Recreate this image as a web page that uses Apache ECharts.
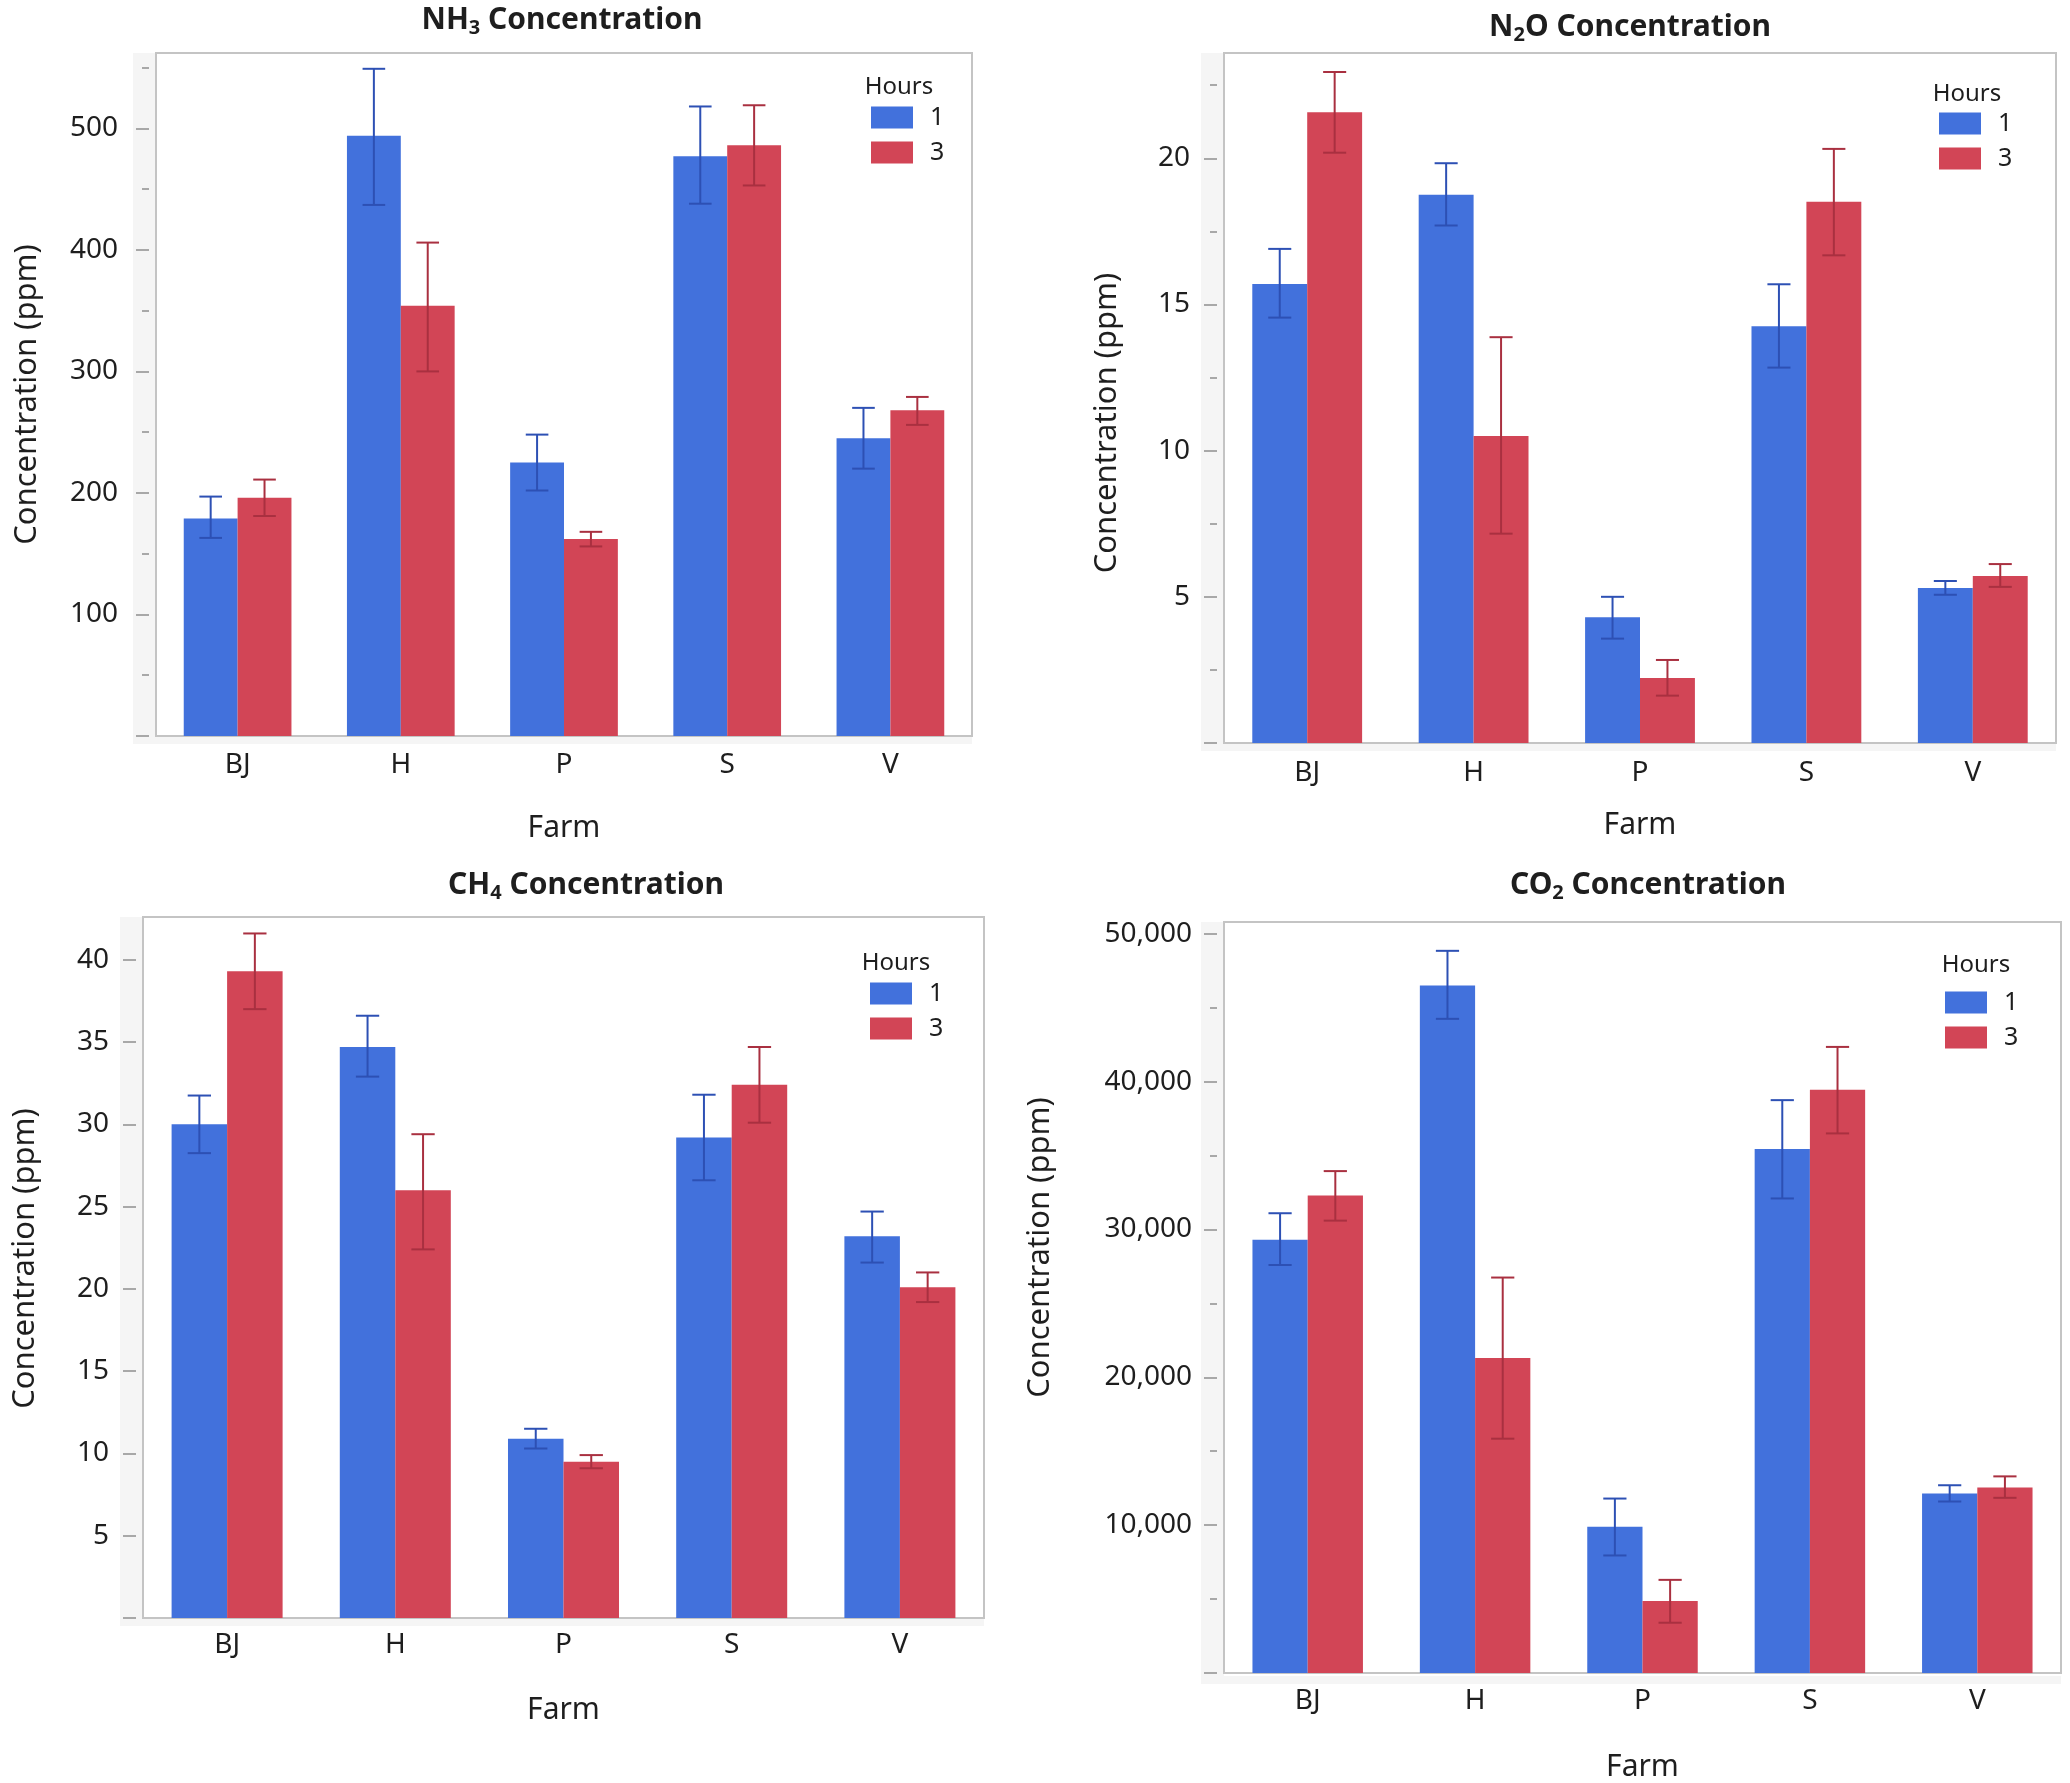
<!DOCTYPE html>
<html><head><meta charset="utf-8">
<script src="https://cdn.jsdelivr.net/npm/echarts@6/dist/echarts.min.js"></script>
<style>html,body{margin:0;padding:0;background:#fff}#c{width:2070px;height:1783px}</style>
</head><body><div id="c"></div>
<script>
// ---------- data ----------
const farms = ['BJ', 'H', 'P', 'S', 'V'];
const hours = ['1', '3'];

const nh3Mean1 = [179, 494, 225, 477, 245];
const nh3Low1  = [163, 437, 202, 438, 220];
const nh3High1 = [197, 549, 248, 518, 270];
const nh3Mean3 = [196, 354, 162, 486, 268];
const nh3Low3  = [181, 300, 156, 453, 256];
const nh3High3 = [211, 406, 168, 519, 279];
const nh3Ticks  = [0, 100, 200, 300, 400, 500];
const nh3Labels = [100, 200, 300, 400, 500];
const nh3Minor  = [50, 150, 250, 350, 450, 550];

const n2oMean1 = [15.7, 18.75, 4.3, 14.25, 5.3];
const n2oLow1  = [14.55, 17.7, 3.57, 12.84, 5.07];
const n2oHigh1 = [16.9, 19.83, 5.0, 15.69, 5.54];
const n2oMean3 = [21.57, 10.5, 2.22, 18.51, 5.71];
const n2oLow3  = [20.19, 7.16, 1.62, 16.68, 5.34];
const n2oHigh3 = [22.95, 13.88, 2.84, 20.32, 6.12];
const n2oTicks  = [0, 5, 10, 15, 20];
const n2oLabels = [5, 10, 15, 20];
const n2oMinor  = [2.5, 7.5, 12.5, 17.5, 22.5];

const ch4Mean1 = [30.0, 34.7, 10.9, 29.2, 23.2];
const ch4Low1  = [28.25, 32.9, 10.3, 26.6, 21.6];
const ch4High1 = [31.75, 36.6, 11.5, 31.8, 24.7];
const ch4Mean3 = [39.3, 26.0, 9.5, 32.4, 20.1];
const ch4Low3  = [37.0, 22.4, 9.1, 30.1, 19.2];
const ch4High3 = [41.6, 29.4, 9.9, 34.7, 21.0];
const ch4Ticks  = [0, 5, 10, 15, 20, 25, 30, 35, 40];
const ch4Labels = [5, 10, 15, 20, 25, 30, 35, 40];
const ch4Minor  = [];

const co2Mean1 = [29300, 46500, 9900, 35450, 12150];
const co2Low1  = [27600, 44250, 7950, 32100, 11600];
const co2High1 = [31100, 48850, 11800, 38750, 12700];
const co2Mean3 = [32300, 21300, 4870, 39450, 12550];
const co2Low3  = [30600, 15850, 3400, 36500, 11850];
const co2High3 = [33950, 26750, 6300, 42350, 13300];
const co2Ticks  = [0, 10000, 20000, 30000, 40000, 50000];
const co2Labels = [10000, 20000, 30000, 40000, 50000];
const co2Minor  = [5000, 15000, 25000, 35000, 45000];

// ---------- styling / layout ----------
const FONT = 'Noto Sans';
const TXT = '#1e1e1e';
const BLUE = '#4271DC', RED = '#D24556';
const BLUE_ERR = '#2D50B4', RED_ERR = '#A93040';
const BAR_FRAC = 0.33;

const panels = [
  { gas: 'NH', sub: '3', max: 562, ticks: nh3Ticks, labels: nh3Labels, minor: nh3Minor,
    m1: nh3Mean1, l1: nh3Low1, h1: nh3High1, m3: nh3Mean3, l3: nh3Low3, h3: nh3High3,
    box: { l: 156, t: 53, r: 972, b: 736 }, titleXY: [562, 20], yNameGap: 106, yNamePad: [0,0,0,0],
    xLabelMargin: 15, xNameGap: 77, legend: [866, 100], hoursXY: [899, 87], labelMargin: 31, fmt: v => String(v) },
  { gas: 'N', sub: '2', tail: 'O', max: 23.6, ticks: n2oTicks, labels: n2oLabels, minor: n2oMinor,
    m1: n2oMean1, l1: n2oLow1, h1: n2oHigh1, m3: n2oMean3, l3: n2oLow3, h3: n2oHigh3,
    box: { l: 1224, t: 53, r: 2056, b: 743 }, titleXY: [1630, 27], yNameGap: 94, yNamePad: [0,50,0,0],
    xLabelMargin: 16, xNameGap: 67, legend: [1934, 106], hoursXY: [1967, 94], labelMargin: 27, fmt: v => String(v) },
  { gas: 'CH', sub: '4', max: 42.6, ticks: ch4Ticks, labels: ch4Labels, minor: ch4Minor,
    m1: ch4Mean1, l1: ch4Low1, h1: ch4High1, m3: ch4Mean3, l3: ch4Low3, h3: ch4High3,
    box: { l: 143, t: 917, r: 984, b: 1618 }, titleXY: [586, 885], yNameGap: 95, yNamePad: [0,0,0,18],
    xLabelMargin: 13, xNameGap: 77, legend: [865, 976], hoursXY: [896, 963], labelMargin: 27, fmt: v => String(v) },
  { gas: 'CO', sub: '2', max: 50800, ticks: co2Ticks, labels: co2Labels, minor: co2Minor,
    m1: co2Mean1, l1: co2Low1, h1: co2High1, m3: co2Mean3, l3: co2Low3, h3: co2High3,
    box: { l: 1224, t: 922, r: 2061, b: 1676 }, titleXY: [1648, 885], yNameGap: 161, yNamePad: [0,0,0,100],
    xLabelMargin: 14, xNameGap: 79, legend: [1940, 985], hoursXY: [1976, 965], labelMargin: 25, fmt: v => v.toLocaleString('en-US') }
];

const grid = [], xAxis = [], yAxis = [], series = [], legend = [], graphic = [];

function errRender(sign, color) {
  return function (params, api) {
    const i = api.value(0);
    const lo = api.coord([i, api.value(1)]);
    const hi = api.coord([i, api.value(2)]);
    const band = api.size([1, 0])[0];
    const bw = band * BAR_FRAC;
    const x = lo[0] + sign * bw / 2;
    const cap = bw * 0.21;
    const style = { stroke: color, lineWidth: 2 };
    return { type: 'group', children: [
      { type: 'line', shape: { x1: x, y1: hi[1], x2: x, y2: lo[1] }, style },
      { type: 'line', shape: { x1: x - cap, y1: hi[1], x2: x + cap, y2: hi[1] }, style },
      { type: 'line', shape: { x1: x - cap, y1: lo[1], x2: x + cap, y2: lo[1] }, style }
    ]};
  };
}

panels.forEach((p, k) => {
  const b = p.box, w = b.r - b.l, h = b.b - b.t;
  grid.push({ left: b.l, top: b.t, width: w, height: h, show: true,
    backgroundColor: '#fff', borderColor: '#c4c4c4', borderWidth: 2, z: 1 });
  xAxis.push({ type: 'category', gridIndex: k, data: farms,
    axisLine: { show: false }, axisTick: { show: false },
    axisLabel: { fontSize: 28, fontFamily: FONT, color: TXT, margin: p.xLabelMargin },
    name: 'Farm', nameLocation: 'middle', nameGap: p.xNameGap,
    nameTextStyle: { fontSize: 30, fontFamily: FONT, color: TXT } });
  const majorIdx = yAxis.length;
  yAxis.push({ type: 'value', gridIndex: k, min: 0, max: p.max, position: 'left', offset: 7,
    axisLine: { show: false }, splitLine: { show: false },
    axisTick: { show: true, length: 13, customValues: p.ticks, lineStyle: { color: '#a8a8a8', width: 2 } },
    axisLabel: { customValues: p.labels, fontSize: 28, fontFamily: FONT, color: TXT, margin: p.labelMargin,
      formatter: p.fmt },
    name: 'Concentration (ppm)', nameLocation: 'middle', nameGap: p.yNameGap,
    nameTextStyle: { fontSize: 31, fontFamily: FONT, color: TXT, padding: p.yNamePad } });
  if (p.minor.length) {
    yAxis.push({ type: 'value', gridIndex: k, min: 0, max: p.max, position: 'left', offset: 7,
      axisLine: { show: false }, splitLine: { show: false }, axisLabel: { show: false },
      axisTick: { show: true, length: 7, customValues: p.minor, lineStyle: { color: '#a8a8a8', width: 2 } } });
  }
  const sets = [
    { name: hours[0], m: p.m1, l: p.l1, hh: p.h1, c: BLUE, ec: BLUE_ERR, s: -1 },
    { name: hours[1], m: p.m3, l: p.l3, hh: p.h3, c: RED, ec: RED_ERR, s: 1 }
  ];
  sets.forEach(st => {
    series.push({ type: 'bar', name: st.name, xAxisIndex: k, yAxisIndex: majorIdx, data: st.m,
      barGap: '0%', barCategoryGap: '34%', itemStyle: { color: st.c }, z: 2, silent: true });
  });
  sets.forEach(st => {
    series.push({ type: 'custom', name: 'err' + st.name, xAxisIndex: k, yAxisIndex: majorIdx,
      renderItem: errRender(st.s, st.ec), z: 5, silent: true,
      encode: { x: 0, y: [1, 2] },
      data: farms.map((f, i) => [i, st.l[i], st.hh[i]]) });
  });
  legend.push({ data: hours, left: p.legend[0], top: p.legend[1], orient: 'vertical',
    itemWidth: 42, itemHeight: 22, itemGap: 10, icon: 'rect', selectedMode: false,
    textStyle: { fontSize: 25, fontFamily: FONT, color: TXT, padding: [0, 0, 0, 12] } });
  // grey axis band
  graphic.push({ type: 'rect', z: 0, shape: { x: b.l - 23, y: b.t, width: 23, height: h + 8 }, style: { fill: '#f5f5f5' } });
  graphic.push({ type: 'rect', z: 0, shape: { x: b.l, y: b.b, width: w, height: 8 }, style: { fill: '#f5f5f5' } });
  // title
  const t = '{b|' + p.gas + '}{s|' + p.sub + '}{b|' + (p.tail || '') + ' Concentration}';
  graphic.push({ type: 'text', z: 10, x: p.titleXY[0], y: p.titleXY[1],
    style: { text: t, align: 'center', verticalAlign: 'middle',
      rich: { b: { fontSize: 30, fontWeight: 'bold', fontFamily: FONT, fill: TXT, lineHeight: 36 },
              s: { fontSize: 20, fontWeight: 'bold', fontFamily: FONT, fill: TXT, lineHeight: 20, verticalAlign: 'bottom' } } } });
  graphic.push({ type: 'text', z: 10, x: p.hoursXY[0], y: p.hoursXY[1],
    style: { text: 'Hours', align: 'center', verticalAlign: 'middle', fontSize: 24, fontFamily: FONT, fill: TXT } });
});

const chart = echarts.init(document.getElementById('c'), null, { renderer: 'canvas' });
chart.setOption({ animation: false, backgroundColor: '#fff', grid, xAxis, yAxis, series, legend, graphic });
</script></body></html>
